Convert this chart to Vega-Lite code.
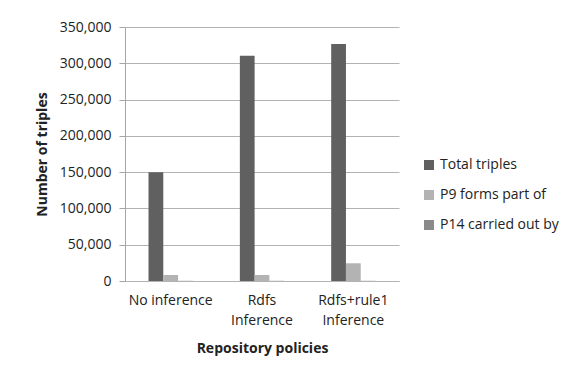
{
  "$schema": "https://vega.github.io/schema/vega-lite/v6.json",
  "autosize": "none",
  "width": 274,
  "height": 254,
  "padding": {"left": 125, "top": 27, "right": 169, "bottom": 88},
  "background": "white",
  "data": {
    "values": [
      {"policy": "No inference", "series": "Total triples", "triples": 150000},
      {"policy": "No inference", "series": "P9 forms part of", "triples": 8300},
      {"policy": "No inference", "series": "P14 carried out by", "triples": 250},
      {"policy": "Rdfs Inference", "series": "Total triples", "triples": 310500},
      {"policy": "Rdfs Inference", "series": "P9 forms part of", "triples": 8300},
      {"policy": "Rdfs Inference", "series": "P14 carried out by", "triples": 250},
      {"policy": "Rdfs+rule1 Inference", "series": "Total triples", "triples": 326500},
      {"policy": "Rdfs+rule1 Inference", "series": "P9 forms part of", "triples": 24400},
      {"policy": "Rdfs+rule1 Inference", "series": "P14 carried out by", "triples": 250}
    ]
  },
  "mark": {"type": "bar"},
  "encoding": {
    "x": {
      "field": "policy",
      "type": "nominal",
      "sort": ["No inference", "Rdfs Inference", "Rdfs+rule1 Inference"],
      "scale": {"paddingInner": 0.515, "paddingOuter": 0.2575},
      "axis": {
        "title": "Repository policies",
        "labelAngle": 0,
        "labelExpr": "datum.label == 'No inference' ? datum.label : split(datum.label, ' ')",
        "labelLineHeight": 20,
        "labelPadding": 12,
        "ticks": false,
        "domainColor": "#b3b3b3",
        "titlePadding": 14
      }
    },
    "xOffset": {
      "field": "series",
      "type": "nominal",
      "sort": ["Total triples", "P9 forms part of", "P14 carried out by"],
      "scale": {"paddingInner": 0, "paddingOuter": 0}
    },
    "y": {
      "field": "triples",
      "type": "quantitative",
      "scale": {"domain": [0, 350000], "nice": false},
      "axis": {
        "title": "Number of triples",
        "values": [0, 50000, 100000, 150000, 200000, 250000, 300000, 350000],
        "format": ",d",
        "tickSize": 6,
        "tickColor": "#a6a6a6",
        "domainColor": "#a6a6a6",
        "labelPadding": 8,
        "titlePadding": 10
      }
    },
    "color": {
      "field": "series",
      "type": "nominal",
      "sort": ["Total triples", "P9 forms part of", "P14 carried out by"],
      "scale": {"range": ["#606060", "#b3b3b3", "#8a8a8a"]},
      "legend": {
        "title": null,
        "orient": "none",
        "legendX": 297,
        "legendY": 131,
        "symbolType": "square",
        "symbolSize": 100,
        "symbolStrokeWidth": 0,
        "rowPadding": 16,
        "labelOffset": 4,
        "labelFontSize": 14,
        "labelFont": "Open Sans",
        "labelColor": "#222222"
      }
    }
  },
  "config": {
    "view": {"stroke": null},
    "font": "Open Sans",
    "axis": {
      "labelFont": "Open Sans",
      "labelFontSize": 14,
      "labelColor": "#222222",
      "titleFont": "Open Sans",
      "titleFontSize": 14,
      "titleFontWeight": "bold",
      "titleColor": "#222222",
      "gridColor": "#b3b3b3",
      "gridWidth": 1
    },
    "axisX": {"grid": false}
  }
}
